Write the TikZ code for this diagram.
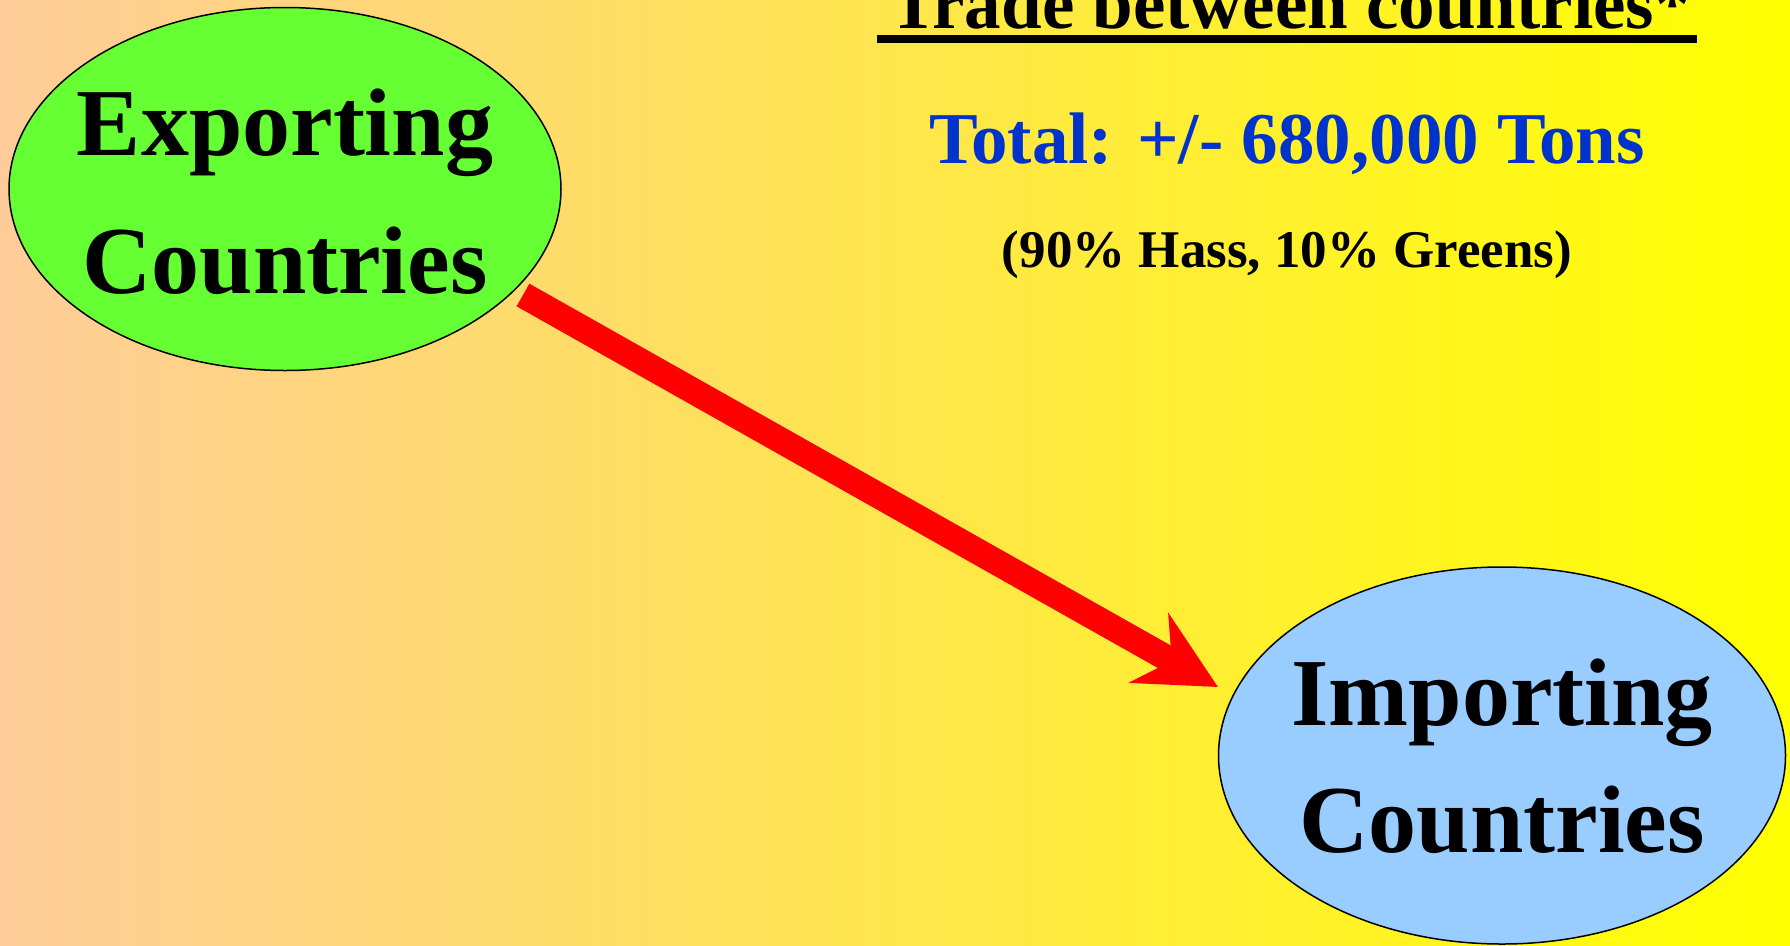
\documentclass[tikz,border=0pt]{standalone}
\usepackage{fontspec}
\setmainfont{Liberation Serif}
\usetikzlibrary{shapes.geometric,arrows.meta}
\definecolor{bgleft}{RGB}{255,204,153}
\definecolor{bgright}{RGB}{255,255,0}
\definecolor{expgreen}{RGB}{102,255,51}
\definecolor{impblue}{RGB}{153,204,255}
\definecolor{totblue}{RGB}{0,51,204}
\definecolor{arrowred}{RGB}{255,0,0}
\begin{document}
\begin{tikzpicture}[x=1pt,y=-1pt,
  country/.style={ellipse, draw=black, line width=1.5pt, inner sep=0pt},
  countrytext/.style={align=center, inner sep=0pt},
  headline/.style={anchor=base, inner sep=0pt, font=\fontsize{73}{80}\selectfont\bfseries},
  flow/.style={arrowred, line width=26pt, -{Stealth[length=79pt,width=79pt,inset=26pt]}}]
\useasboundingbox (0,0) rectangle (1790,945);
\clip (0,0) rectangle (1790,945);
\shade[left color=bgleft, right color=bgright] (0,0) rectangle (1790,945);
% ellipses
\node[country, fill=expgreen, minimum width=552pt, minimum height=363pt] (exp) at (285,189) {};
\node[countrytext, font=\fontsize{96}{138}\selectfont\bfseries] (exptxt) at (285,191.5) {Exporting\\Countries};
\node[country, fill=impblue, minimum width=567pt, minimum height=377pt] (imp) at (1502,755.5) {};
\node[countrytext, font=\fontsize{96}{127}\selectfont\bfseries] (imptxt) at (1502,756) {Importing\\Countries};
% texts
\node[headline] (title) at (1290,28) {Trade between countries*};
\draw[line width=8pt] (877,39) -- (1697,39);
\node[headline, text=totblue] (total) at (1287,163) {Total: +/- 680,000 Tons};
\node[anchor=base, inner sep=0pt, font=\fontsize{53}{60}\selectfont\bfseries] (split) at (1287,267) {(90\% Hass, 10\% Greens)};
% arrow
\coordinate (tail) at (523,295);
\coordinate (tip) at (1218,687);
\draw[flow] (tail) -- (tip);
\end{tikzpicture}
\end{document}
